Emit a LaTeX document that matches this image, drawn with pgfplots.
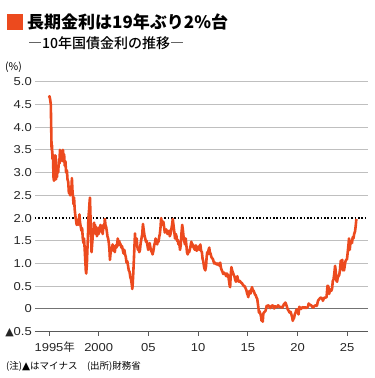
\documentclass[border=0pt]{standalone}
\usepackage{fontspec}
\usepackage{pgfplots}
\pgfplotsset{compat=1.18}
\setmainfont{Liberation Sans}[FakeStretch=1.13]
\newfontfamily\jp{Noto Sans CJK JP}
\newfontfamily\jpm{Noto Sans CJK JP Medium}
\newfontfamily\dv{DejaVu Sans}
\definecolor{myorange}{RGB}{236,74,30}
\pgfplotstableread{
x y
1995.00 4.65
1995.05 4.68
1995.12 4.60
1995.18 4.50
1995.22 4.00
1995.26 3.50
1995.30 3.60
1995.35 3.30
1995.40 3.40
1995.45 2.90
1995.50 2.82
1995.55 3.30
1995.60 3.05
1995.65 3.38
1995.70 2.85
1995.75 3.10
1995.80 2.90
1995.85 3.15
1995.92 3.00
1996.00 3.30
1996.05 3.20
1996.10 3.50
1996.18 3.30
1996.25 3.45
1996.32 3.25
1996.40 3.50
1996.46 3.35
1996.52 3.40
1996.58 3.15
1996.65 3.25
1996.72 3.00
1996.80 3.05
1996.86 2.85
1996.93 2.80
1997.00 2.55
1997.05 2.65
1997.12 2.50
1997.18 2.70
1997.25 2.55
1997.30 2.88
1997.36 2.60
1997.42 2.45
1997.47 2.30
1997.52 2.45
1997.58 2.20
1997.65 2.05
1997.72 1.95
1997.78 1.85
1997.85 1.95
1997.92 1.85
1998.00 1.95
1998.06 2.08
1998.12 1.90
1998.20 1.80
1998.27 1.72
1998.33 1.78
1998.40 1.55
1998.47 1.45
1998.52 1.55
1998.58 1.35
1998.64 1.10
1998.70 0.85
1998.74 0.78
1998.80 0.95
1998.86 1.30
1998.92 1.60
1998.96 2.00
1999.02 2.15
1999.08 2.35
1999.12 2.45
1999.17 2.05
1999.22 1.70
1999.28 1.25
1999.33 1.40
1999.38 1.55
1999.43 1.75
1999.48 1.65
1999.53 1.90
1999.58 1.75
1999.64 1.85
1999.70 1.65
1999.76 1.80
1999.82 1.60
1999.88 1.75
1999.94 1.70
2000.00 1.65
2000.06 1.80
2000.12 1.72
2000.18 1.85
2000.25 1.70
2000.32 1.75
2000.40 1.65
2000.48 1.85
2000.55 1.78
2000.62 1.98
2000.68 1.85
2000.75 1.80
2000.82 1.70
2000.88 1.60
2000.95 1.55
2001.02 1.45
2001.08 1.30
2001.13 1.08
2001.18 1.20
2001.25 1.35
2001.32 1.30
2001.40 1.42
2001.48 1.28
2001.55 1.35
2001.62 1.25
2001.70 1.40
2001.78 1.35
2001.85 1.42
2001.92 1.55
2001.98 1.40
2002.05 1.50
2002.12 1.45
2002.20 1.42
2002.28 1.35
2002.35 1.38
2002.42 1.30
2002.50 1.22
2002.58 1.30
2002.65 1.20
2002.72 1.15
2002.80 1.02
2002.88 1.05
2002.95 0.95
2003.02 0.85
2003.10 0.82
2003.18 0.70
2003.25 0.65
2003.32 0.55
2003.38 0.44
2003.42 0.55
2003.48 0.80
2003.54 1.10
2003.60 1.40
2003.65 1.66
2003.70 1.45
2003.76 1.40
2003.82 1.55
2003.88 1.38
2003.94 1.30
2004.00 1.35
2004.08 1.25
2004.15 1.30
2004.22 1.45
2004.30 1.55
2004.38 1.65
2004.45 1.87
2004.52 1.75
2004.60 1.62
2004.68 1.55
2004.75 1.48
2004.82 1.50
2004.90 1.40
2004.98 1.30
2005.05 1.38
2005.12 1.45
2005.20 1.35
2005.28 1.28
2005.35 1.25
2005.42 1.20
2005.50 1.28
2005.58 1.40
2005.65 1.45
2005.72 1.55
2005.80 1.50
2005.88 1.42
2005.95 1.50
2006.02 1.48
2006.08 1.58
2006.15 1.65
2006.22 1.80
2006.28 2.00
2006.35 1.90
2006.42 1.85
2006.50 1.92
2006.58 1.80
2006.65 1.68
2006.72 1.72
2006.80 1.75
2006.86 1.70
2006.92 1.65
2007.00 1.70
2007.08 1.72
2007.15 1.60
2007.22 1.65
2007.30 1.75
2007.38 1.85
2007.45 1.98
2007.52 1.85
2007.60 1.70
2007.68 1.55
2007.75 1.65
2007.82 1.60
2007.88 1.50
2007.95 1.52
2008.02 1.42
2008.10 1.45
2008.18 1.30
2008.25 1.40
2008.32 1.65
2008.40 1.85
2008.46 1.75
2008.52 1.62
2008.60 1.50
2008.68 1.42
2008.75 1.55
2008.82 1.40
2008.88 1.25
2008.95 1.20
2009.02 1.28
2009.10 1.25
2009.18 1.32
2009.25 1.40
2009.32 1.48
2009.40 1.38
2009.48 1.42
2009.55 1.35
2009.62 1.32
2009.70 1.30
2009.78 1.40
2009.85 1.28
2009.92 1.30
2010.00 1.32
2010.08 1.38
2010.15 1.30
2010.22 1.42
2010.30 1.28
2010.38 1.25
2010.45 1.10
2010.52 1.05
2010.58 0.95
2010.65 0.88
2010.72 0.85
2010.80 0.95
2010.86 1.15
2010.92 1.25
2010.98 1.20
2011.05 1.30
2011.12 1.35
2011.18 1.25
2011.25 1.22
2011.32 1.15
2011.40 1.12
2011.48 1.10
2011.55 1.05
2011.62 1.00
2011.70 1.02
2011.78 1.00
2011.85 0.98
2011.92 1.00
2012.00 0.97
2012.08 1.00
2012.15 0.95
2012.22 1.02
2012.30 0.90
2012.38 0.85
2012.45 0.82
2012.52 0.77
2012.60 0.80
2012.68 0.78
2012.75 0.76
2012.82 0.72
2012.90 0.78
2012.98 0.75
2013.05 0.70
2013.12 0.60
2013.18 0.50
2013.22 0.48
2013.28 0.75
2013.35 0.92
2013.42 0.85
2013.50 0.80
2013.58 0.75
2013.65 0.72
2013.72 0.65
2013.80 0.60
2013.88 0.68
2013.95 0.72
2014.02 0.62
2014.10 0.60
2014.18 0.62
2014.25 0.60
2014.32 0.58
2014.40 0.57
2014.48 0.54
2014.55 0.52
2014.62 0.50
2014.70 0.50
2014.78 0.45
2014.85 0.42
2014.92 0.35
2015.00 0.30
2015.05 0.26
2015.12 0.38
2015.20 0.40
2015.28 0.34
2015.35 0.42
2015.42 0.48
2015.50 0.42
2015.58 0.40
2015.65 0.36
2015.72 0.32
2015.80 0.30
2015.88 0.25
2015.95 0.22
2016.02 0.10
2016.08 0.00
2016.12 -0.08
2016.18 -0.05
2016.25 -0.10
2016.32 -0.15
2016.38 -0.26
2016.44 -0.22
2016.50 -0.28
2016.56 -0.10
2016.62 -0.08
2016.70 -0.06
2016.78 -0.04
2016.85 0.02
2016.90 0.07
2016.95 0.05
2017.05 0.08
2017.15 0.06
2017.25 0.02
2017.35 0.05
2017.45 0.08
2017.55 0.07
2017.65 0.01
2017.75 0.06
2017.85 0.04
2017.95 0.05
2018.05 0.08
2018.15 0.05
2018.25 0.04
2018.35 0.05
2018.45 0.03
2018.55 0.06
2018.62 0.10
2018.70 0.12
2018.78 0.14
2018.86 0.10
2018.93 0.05
2019.00 0.00
2019.08 -0.03
2019.15 -0.06
2019.22 -0.08
2019.30 -0.06
2019.38 -0.12
2019.45 -0.17
2019.52 -0.26
2019.58 -0.22
2019.65 -0.20
2019.72 -0.12
2019.80 -0.08
2019.88 -0.02
2019.95 -0.01
2020.02 -0.05
2020.10 -0.12
2020.18 0.05
2020.25 0.02
2020.35 0.00
2020.45 0.03
2020.55 0.04
2020.65 0.02
2020.75 0.04
2020.85 0.02
2020.95 0.03
2021.05 0.05
2021.12 0.12
2021.18 0.10
2021.28 0.09
2021.38 0.08
2021.48 0.05
2021.58 0.03
2021.68 0.06
2021.78 0.08
2021.88 0.07
2021.95 0.07
2022.05 0.17
2022.12 0.20
2022.20 0.22
2022.28 0.24
2022.38 0.25
2022.48 0.23
2022.55 0.18
2022.62 0.22
2022.72 0.25
2022.82 0.25
2022.92 0.26
2022.98 0.42
2023.02 0.51
2023.10 0.50
2023.18 0.33
2023.25 0.40
2023.32 0.43
2023.40 0.40
2023.48 0.45
2023.55 0.62
2023.62 0.65
2023.70 0.78
2023.78 0.95
2023.85 0.82
2023.92 0.62
2023.98 0.60
2024.05 0.70
2024.12 0.72
2024.20 0.75
2024.28 0.88
2024.35 1.06
2024.42 1.05
2024.50 1.08
2024.56 0.85
2024.62 0.90
2024.68 0.85
2024.75 0.95
2024.82 1.05
2024.90 1.08
2024.98 1.10
2025.05 1.25
2025.12 1.40
2025.18 1.55
2025.25 1.30
2025.32 1.45
2025.40 1.50
2025.48 1.45
2025.55 1.58
2025.62 1.55
2025.70 1.65
2025.78 1.70
2025.85 1.82
2025.92 1.98
}\yields
\begin{document}
\begin{tikzpicture}[x=1pt,y=1pt]
\useasboundingbox (0,0) rectangle (375,378);
\fill[myorange] (7,348) rectangle (22.7,364);
\node[anchor=west, inner sep=0] at (27,356) {\jp\bfseries\fontsize{17}{17}\selectfont 長期金利は19年ぶり2\%台};
\node[anchor=west, inner sep=0] at (28,334.7) {\jpm\fontsize{14}{14}\selectfont ―10年国債金利の推移―};
\node[anchor=west, inner sep=0] at (5,311) {\jp\fontsize{10.5}{10.5}\selectfont (\%)};
\node[anchor=west, inner sep=0] at (6,12) {\jp\fontsize{9.5}{9.5}\selectfont (注){\dv\fontsize{10.5}{10.5}\selectfont ▲}はマイナス　(出所)財務省};
\begin{axis}[
  scale only axis, width=333pt, height=250pt,
  at={(35pt,46.3pt)}, anchor=south west,
  xmin=1993.59, xmax=2027.09, ymin=-0.5, ymax=5,
  axis x line*=bottom, axis y line*=left,
  y axis line style={draw=none},
  x axis line style={draw=black!65, line width=0.9pt, -},
  ytick={-0.5,0,0.5,1,1.5,2,2.5,3,3.5,4,4.5,5},
  yticklabels={{{\dv\fontsize{11}{11}\selectfont ▲}0.5},0,0.5,1.0,1.5,2.0,2.5,3.0,3.5,4.0,4.5,5.0},
  ytick style={draw=none},
  xtick={1995,2000,2005,2010,2015,2020,2025},
  xticklabels={1995\rlap{\jp 年},2000,05,10,15,20,25},
  xtick style={draw=black!65, line width=0.8pt},
  tick align=outside, major tick length=4pt,
  ymajorgrids, major grid style={draw=black!25, line width=1pt},
  tick label style={font=\fontsize{11.5}{11.5}\selectfont, text=black!85},
  yticklabel style={anchor=east, inner sep=0pt, xshift=1pt},
  xticklabel style={anchor=base, inner sep=0pt, yshift=-15.5pt},
  clip=false,
]
\addplot[draw=black!55, line width=1pt] coordinates {(1993.59,0) (2027.09,0)};
\addplot[draw=white, line width=1.8pt] coordinates {(1993.59,2) (2027.09,2)};
\addplot[draw=black, line width=1.5pt, dash pattern=on 1.5pt off 1.9pt] coordinates {(1993.59,2) (2027.09,2)};
\addplot[draw=myorange, line width=2.6pt, line join=round] table[x=x,y=y] {\yields};
\end{axis}
\end{tikzpicture}
\end{document}
